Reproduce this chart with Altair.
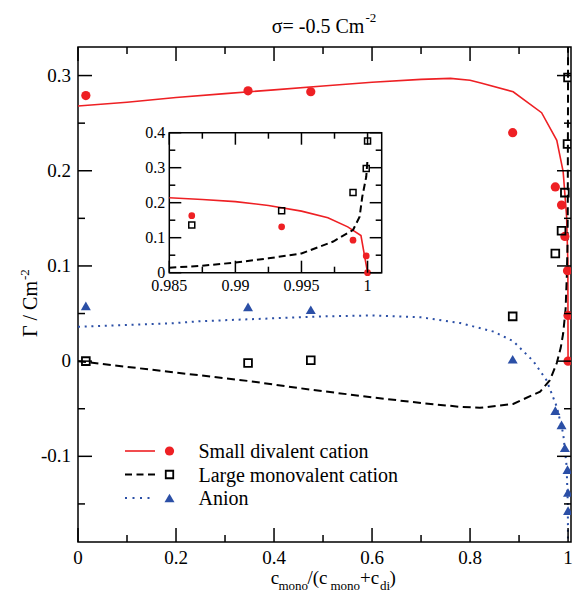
import altair as alt
import pandas as pd

# ---------------- data ----------------
series_names = ["Small divalent cation", "Large monovalent cation", "Anion"]

# main panel: simulation points
pts_x = [0.016, 0.347, 0.475, 0.887, 0.974, 0.9867, 0.9935, 0.9989, 0.9999, 1.0]
pts_divalent = [0.279, 0.284, 0.283, 0.240, 0.183, 0.164, 0.131, 0.095, 0.048, 0.0]
pts_monovalent = [0.0, -0.002, 0.001, 0.047, 0.113, 0.137, 0.177, 0.228, 0.298, 0.376]
pts_anion = [0.058, 0.057, 0.054, 0.002, -0.052, -0.067, -0.091, -0.114, -0.138, -0.157]

# main panel: theory curves
div_line_x = [0, 0.1, 0.2, 0.3, 0.4, 0.5, 0.6, 0.7, 0.76, 0.8, 0.824, 0.888, 0.946, 0.977, 0.99, 0.997, 0.9996, 1.0]
div_line_y = [0.268, 0.272, 0.277, 0.281, 0.285, 0.289, 0.293, 0.296, 0.297, 0.295, 0.292, 0.283, 0.261, 0.232, 0.199, 0.152, 0.104, 0.0]

mono_line_x = [0, 0.1, 0.25, 0.35, 0.475, 0.6, 0.7, 0.78, 0.82, 0.888, 0.943, 0.963, 0.977, 0.985, 0.99,
               0.995, 0.9974, 0.9989, 0.9994, 0.9996, 0.9999, 1.0]
mono_line_y = [0.0, -0.006, -0.015, -0.021, -0.030, -0.038, -0.044, -0.048, -0.049, -0.045, -0.032, -0.020, -0.002, 0.014, 0.029,
               0.055, 0.089, 0.122, 0.160, 0.217, 0.274, 0.345]

anion_line_x = [0, 0.1, 0.2, 0.25, 0.3, 0.4, 0.5, 0.6, 0.7, 0.78, 0.848, 0.888, 0.929, 0.956, 0.977, 0.99, 0.997, 0.9995, 1.0]
anion_line_y = [0.036, 0.038, 0.040, 0.042, 0.043, 0.045, 0.047, 0.048, 0.046, 0.040, 0.031, 0.021, 0.0, -0.020, -0.048, -0.076, -0.110, -0.150, -0.200]

# inset
inset_pts_x = [0.9867, 0.9935, 0.9989, 0.9999, 1.0]
inset_pts_divalent = [0.163, 0.131, 0.093, 0.048, 0.0]
inset_pts_monovalent = [0.136, 0.177, 0.2295, 0.298, 0.376]
inset_div_line_x = [0.985, 0.9875, 0.99, 0.9925, 0.995, 0.997, 0.9985, 0.9995, 1.0]
inset_div_line_y = [0.214, 0.209, 0.203, 0.192, 0.176, 0.157, 0.131, 0.106, 0.0]
inset_mono_line_x = [0.985, 0.9875, 0.99, 0.9925, 0.995, 0.9974, 0.9989, 0.9994, 0.9996, 0.9999, 1.0]
inset_mono_line_y = [0.014, 0.020, 0.029, 0.041, 0.055, 0.089, 0.122, 0.160, 0.217, 0.274, 0.325]

# ticks and labels
main_xticks = [0, 0.2, 0.4, 0.6, 0.8, 1.0]
main_xlabels = ["0", "0.2", "0.4", "0.6", "0.8", "1"]
main_xminor = [0.1, 0.3, 0.5, 0.7, 0.9]
main_yticks = [-0.1, 0, 0.1, 0.2, 0.3]
main_ylabels = ["-0.1", "0", "0.1", "0.2", "0.3"]
main_yminor = [-0.15, -0.05, 0.05, 0.15, 0.25]
inset_xticks = [0.985, 0.99, 0.995, 1.0]
inset_xlabels = ["0.985", "0.99", "0.995", "1"]
inset_xminor = [0.9875, 0.9925, 0.9975]
inset_yticks = [0, 0.1, 0.2, 0.3, 0.4]
inset_ylabels = ["0", "0.1", "0.2", "0.3", "0.4"]
inset_yminor = [0.05, 0.15, 0.25, 0.35]

title_main = "σ= -0.5 Cm"
title_sup = "-2"

# ---------------- layout & style ----------------
W, H = 493, 495
PAD = {"left": 78, "top": 47, "right": 3, "bottom": 50}
IX0, IX1 = 91.3, 303.7      # inset frame (plot coordinates)
IY0, IY1 = 85.7, 225.7
FONT = "'Liberation Serif', 'DejaVu Serif', 'Noto Serif', serif"
RED = "#ee2024"
BLUE = "#2b4fa6"
BLACK = "#000000"


def xs_main():
    return alt.Scale(domain=[0, 1.006], range=[0, W], nice=False, zero=False)


def ys_main():
    return alt.Scale(domain=[-0.19, 0.33], range=[H, 0], nice=False, zero=False)


def xs_inset():
    return alt.Scale(domain=[0.985, 1.00107], range=[IX0, IX1], nice=False, zero=False)


def ys_inset():
    return alt.Scale(domain=[0, 0.4], range=[IY1, IY0], nice=False, zero=False)


def XQ(sc):
    return alt.X("x:Q", scale=sc, axis=None)


def YQ(sc):
    return alt.Y("y:Q", scale=sc, axis=None)


layers = []


def add_line(xv, yv, color, width, sx, sy, dash=None):
    kw = dict(color=color, strokeWidth=width, clip=True)
    if dash:
        kw["strokeDash"] = dash
    df = pd.DataFrame({"x": xv, "y": yv})
    layers.append(alt.Chart(df).mark_line(**kw).encode(x=XQ(sx), y=YQ(sy)))


def add_points(xv, yv, shape, color, size, filled, sx, sy, sw=1.8):
    df = pd.DataFrame({"x": xv, "y": yv})
    layers.append(
        alt.Chart(df).mark_point(shape=shape, color=color, size=size, filled=filled,
                                 strokeWidth=sw, opacity=1, clip=True)
        .encode(x=XQ(sx), y=YQ(sy))
    )


def add_xticks(vals, sx, ybase, length, direction):
    df = pd.DataFrame({"x": vals})
    layers.append(
        alt.Chart(df).mark_rule(color=BLACK, strokeWidth=1.5)
        .encode(x=XQ(sx), y=alt.value(ybase), y2=alt.value(ybase + direction * length))
    )


def add_yticks(vals, sy, xbase, length, direction):
    df = pd.DataFrame({"y": vals})
    layers.append(
        alt.Chart(df).mark_rule(color=BLACK, strokeWidth=1.5)
        .encode(y=YQ(sy), x=alt.value(xbase), x2=alt.value(xbase + direction * length))
    )


def add_text(txt, x, y, size, align="left", baseline="alphabetic", angle=None):
    kw = dict(font=FONT, fontSize=size, align=align, baseline=baseline, color=BLACK)
    if angle is not None:
        kw["angle"] = angle
    df = pd.DataFrame({"t": [txt]})
    layers.append(alt.Chart(df).mark_text(**kw).encode(x=alt.value(x), y=alt.value(y), text="t:N"))


# ---- main curves ----
add_line(div_line_x, div_line_y, RED, 1.6, xs_main(), ys_main())
add_line(mono_line_x, mono_line_y, BLACK, 2, xs_main(), ys_main(), dash=[8, 4.5])
add_line(anion_line_x, anion_line_y, BLUE, 2, xs_main(), ys_main(), dash=[2, 4.7])

# ---- main points ----
add_points(pts_x, pts_divalent, "circle", RED, 85, True, xs_main(), ys_main())
add_points(pts_x, pts_monovalent, "square", BLACK, 60, False, xs_main(), ys_main())
add_points(pts_x, pts_anion, "triangle-up", BLUE, 100, True, xs_main(), ys_main())

# ---- main ticks (inward, mirrored) ----
add_xticks(main_xticks, xs_main(), H, 14, -1)
add_xticks(main_xminor, xs_main(), H, 7, -1)
add_xticks(main_xticks, xs_main(), 0, 14, 1)
add_xticks(main_xminor, xs_main(), 0, 7, 1)
add_yticks(main_yticks, ys_main(), 0, 14, 1)
add_yticks(main_yminor, ys_main(), 0, 7, 1)
add_yticks(main_yticks, ys_main(), W, 14, -1)
add_yticks(main_yminor, ys_main(), W, 7, -1)

# ---- main tick labels ----
layers.append(
    alt.Chart(pd.DataFrame({"x": main_xticks, "l": main_xlabels}))
    .mark_text(font=FONT, fontSize=19, align="center", baseline="top", color=BLACK)
    .encode(x=XQ(xs_main()), y=alt.value(H + 7), text="l:N")
)
layers.append(
    alt.Chart(pd.DataFrame({"y": main_yticks, "l": main_ylabels}))
    .mark_text(font=FONT, fontSize=19, align="right", baseline="middle", color=BLACK)
    .encode(y=YQ(ys_main()), x=alt.value(-7), text="l:N")
)

# ---- inset ----
layers.append(
    alt.Chart(pd.DataFrame({"k": [0]}))
    .mark_rect(fill="white", stroke=BLACK, strokeWidth=1.5)
    .encode(x=alt.value(IX0), x2=alt.value(IX1), y=alt.value(IY0), y2=alt.value(IY1))
)
add_line(inset_div_line_x, inset_div_line_y, RED, 1.6, xs_inset(), ys_inset())
add_line(inset_mono_line_x, inset_mono_line_y, BLACK, 2, xs_inset(), ys_inset(), dash=[7, 4])
add_points(inset_pts_x, inset_pts_divalent, "circle", RED, 45, True, xs_inset(), ys_inset())
add_points(inset_pts_x, inset_pts_monovalent, "square", BLACK, 36, False, xs_inset(), ys_inset(), sw=1.5)

add_xticks(inset_xticks, xs_inset(), IY1, 12, -1)
add_xticks(inset_xminor, xs_inset(), IY1, 6, -1)
add_xticks(inset_xticks, xs_inset(), IY0, 12, 1)
add_xticks(inset_xminor, xs_inset(), IY0, 6, 1)
add_yticks(inset_yticks, ys_inset(), IX0, 12, 1)
add_yticks(inset_yminor, ys_inset(), IX0, 6, 1)
add_yticks(inset_yticks, ys_inset(), IX1, 12, -1)
add_yticks(inset_yminor, ys_inset(), IX1, 6, -1)

layers.append(
    alt.Chart(pd.DataFrame({"x": inset_xticks, "l": inset_xlabels}))
    .mark_text(font=FONT, fontSize=16, align="center", baseline="top", color=BLACK)
    .encode(x=XQ(xs_inset()), y=alt.value(IY1 + 5), text="l:N")
)
layers.append(
    alt.Chart(pd.DataFrame({"y": inset_yticks, "l": inset_ylabels}))
    .mark_text(font=FONT, fontSize=16, align="right", baseline="middle", color=BLACK)
    .encode(y=YQ(ys_inset()), x=alt.value(IX0 - 4), text="l:N")
)

# ---- legend (drawn by hand: line sample + marker + label) ----
leg_rows = [404, 427.5, 451]
leg_styles = [
    (RED, 1.6, None, "circle", 85, True),
    (BLACK, 2, [7, 4.5], "square", 56, False),
    (BLUE, 2, [2, 5.5], "triangle-up", 100, True),
]
for name, ry, (col, lw, dash, shape, size, filled) in zip(series_names, leg_rows, leg_styles):
    d1 = pd.DataFrame({"name": [name]})
    rkw = dict(color=col, strokeWidth=lw)
    if dash:
        rkw["strokeDash"] = dash
    layers.append(alt.Chart(d1).mark_rule(**rkw).encode(x=alt.value(47), x2=alt.value(77), y=alt.value(ry)))
    layers.append(
        alt.Chart(d1).mark_point(shape=shape, color=col, size=size, filled=filled, strokeWidth=1.8, opacity=1)
        .encode(x=alt.value(91.5), y=alt.value(ry))
    )
    layers.append(
        alt.Chart(d1).mark_text(font=FONT, fontSize=20, align="left", baseline="alphabetic", color=BLACK)
        .encode(x=alt.value(120.5), y=alt.value(ry + 7), text="name:N")
    )

# ---- titles (with super/subscripts as separate text pieces) ----
add_text(title_main, 193.7, -14, 20)
add_text(title_sup, 287.5, -25, 13)

add_text("c", 192.7, 537, 19)
add_text("mono", 200.5, 543, 13)
add_text("/(c", 229.5, 537, 19)
add_text("mono", 252.5, 543, 13)
add_text("+c", 282, 537, 19)
add_text("di", 302, 543, 13)
add_text(")", 311.5, 537, 19)

add_text("Γ / Cm", -41.5, 290, 20, angle=270)
add_text("-2", -49, 233, 13, angle=270)

chart = (
    alt.layer(*layers)
    .resolve_scale(x="independent", y="independent")
    .properties(width=W, height=H, padding=PAD, autosize=alt.AutoSizeParams(type="none"),
                background="white")
    .configure_view(stroke=BLACK, strokeWidth=1.5)
)

chart.save("out.html", embed_options={"renderer": "svg", "actions": False})
